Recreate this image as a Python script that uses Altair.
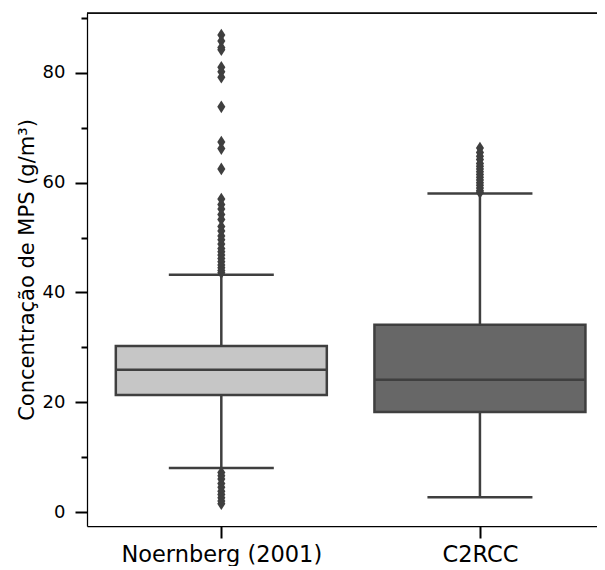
import json
import altair as alt
import pandas as pd

categories = ["Noernberg (2001)", "C2RCC"]
q1 = [21.3, 18.2]
median = [25.9, 24.1]
q3 = [30.25, 34.1]
whisk_lo = [8.0, 2.7]
whisk_hi = [43.2, 58.0]
fill_colors = ["#c6c6c6", "#676767"]

outliers_noernberg = [86.9, 85.8, 84.6, 84.2, 81.0, 80.2, 79.2, 73.8, 67.4, 66.2, 62.5,
                      57.0, 56.0, 55.2, 54.2, 53.3, 52.0, 51.2, 50.3, 49.6, 48.8, 48.0,
                      47.4, 46.8, 46.2, 45.6, 45.0, 44.5, 44.0, 43.6,
                      7.2, 6.6, 6.0, 5.2, 4.5, 3.8, 3.2, 2.6, 2.0, 1.5]
outliers_c2rcc = [66.3, 65.5, 64.8, 64.2, 63.5, 63.0, 62.5, 62.0, 61.5, 61.0, 60.5,
                  60.0, 59.5, 59.0, 58.5, 58.2]

y_ticks = [0, 10, 20, 30, 40, 50, 60, 70, 80, 90]

stats = pd.DataFrame({"idx": list(range(len(categories))), "cat": categories,
                      "q1": q1, "median": median, "q3": q3, "lo": whisk_lo, "hi": whisk_hi})
out = pd.DataFrame({
    "idx": [0] * len(outliers_noernberg) + [1] * len(outliers_c2rcc),
    "v": outliers_noernberg + outliers_c2rcc,
})

EDGE = "#3f3f3f"
PAD_L = 79
W = 589 - PAD_L
H = 513
STEP = 263.8  # px per category unit

label_expr = json.dumps(categories) + "[datum.value]"
xscale = alt.Scale(domain=[-0.5, -0.5 + W / STEP], nice=False, zero=False)
xaxis = alt.Axis(title=None, values=[0, 1], labelExpr=label_expr, labelAngle=0,
                 labelFontSize=22.5, labelColor="black", labelFont="DejaVu Sans", labelLimit=0,
                 tickSize=12, tickWidth=2, tickColor="black", grid=False,
                 domainColor="black", domainWidth=1.25, labelPadding=5, labelOverlap=False)
xenc = alt.X("idx:Q", scale=xscale, axis=xaxis)

yscale = alt.Scale(domain=[-2.55, 90.9], nice=False, zero=False)
yaxis = alt.Axis(title="Concentração de MPS (g/m³)", values=y_ticks,
                 labelExpr="datum.value % 20 === 0 ? datum.label : ''",
                 tickSize={"condition": {"test": "datum.value % 20 === 0", "value": 12}, "value": 6},
                 tickWidth=2, tickColor="black", domainColor="black", domainWidth=1.25,
                 labelFontSize=18, labelFont="DejaVu Sans", labelColor="black", labelPadding=10,
                 titleFontSize=21, titleFont="DejaVu Sans", titleFontWeight="normal",
                 titleColor="black", titlePadding=5, grid=False, labelOverlap=False)

base = alt.Chart(stats)

whisk = base.mark_rule(color=EDGE, strokeWidth=2.5).encode(
    x=xenc, y=alt.Y("lo:Q", scale=yscale, axis=yaxis), y2="hi:Q")

caps_lo = base.mark_tick(color=EDGE, size=105, thickness=2.5, opacity=1, orient="horizontal").encode(
    x=xenc, y=alt.Y("lo:Q", scale=yscale))
caps_hi = base.mark_tick(color=EDGE, size=105, thickness=2.5, opacity=1, orient="horizontal").encode(
    x=xenc, y=alt.Y("hi:Q", scale=yscale))

box = base.mark_bar(size=211, stroke=EDGE, strokeWidth=2.5, opacity=1, orient="vertical").encode(
    x=xenc, y=alt.Y("q1:Q", scale=yscale), y2="q3:Q",
    fill=alt.Fill("cat:N", scale=alt.Scale(domain=categories, range=fill_colors), legend=None))

med = base.mark_tick(color=EDGE, size=211, thickness=2.5, opacity=1, orient="horizontal").encode(
    x=xenc, y=alt.Y("median:Q", scale=yscale))

pts = alt.Chart(out).mark_point(
    shape="M0,-1L0.64,0L0,1L-0.64,0Z", filled=True, color=EDGE, opacity=1, size=160
).encode(x=xenc, y=alt.Y("v:Q", scale=yscale))

top = alt.Chart(stats).mark_rule(color="black", strokeWidth=1.25).encode(
    y=alt.value(0), x=alt.value(0), x2=alt.value(W))

chart = alt.layer(whisk, caps_lo, caps_hi, box, med, pts, top).properties(
    width=W, height=H,
    autosize=alt.AutoSizeParams(type="none"),
    padding={"left": PAD_L, "top": 5, "right": 0, "bottom": 40},
).configure_view(stroke=None).configure(background="white")

chart.save("out.html", embed_options={"renderer": "svg", "actions": False})
